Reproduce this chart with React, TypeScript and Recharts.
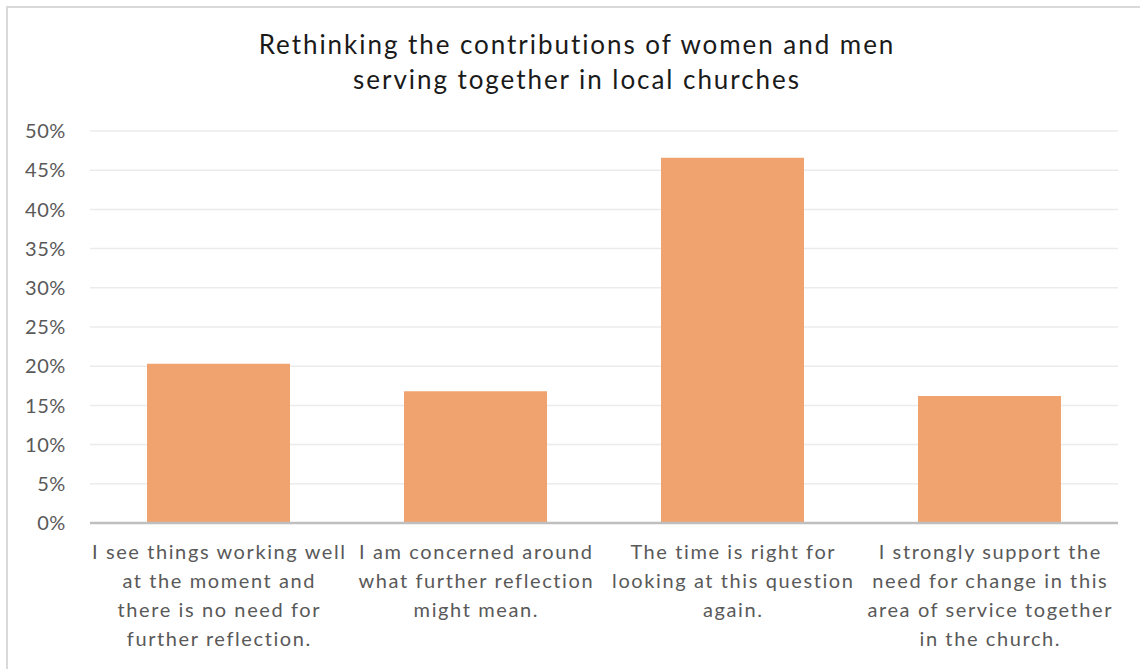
import React from 'react';
import { BarChart, Bar, XAxis, YAxis, CartesianGrid } from 'recharts';

const categories = [
  'I see things working well at the moment and there is no need for further reflection.',
  'I am concerned around what further reflection might mean.',
  'The time is right for looking at this question again.',
  'I strongly support the need for change in this area of service together in the church.',
];

const categoryLines = [
  ['I see things working well', 'at the moment and', 'there is no need for', 'further reflection.'],
  ['I am concerned around', 'what further reflection', 'might mean.'],
  ['The time is right for', 'looking at this question', 'again.'],
  ['I strongly support the', 'need for change in this', 'area of service together', 'in the church.'],
];

const shares = [0.203, 0.168, 0.466, 0.162];

const yTicks = [0, 0.05, 0.1, 0.15, 0.2, 0.25, 0.3, 0.35, 0.4, 0.45, 0.5];

const titleLines = ['Rethinking the contributions of women and men', 'serving together in local churches'];

const data = categories.map((c, i) => ({ category: c, share: shares[i] }));

const FONT = 'Lato, "Open Sans", sans-serif';

const CategoryTick = (props: any) => {
  const { x, y, index } = props;
  const lines = categoryLines[index] || [];
  return (
    <g transform={`translate(${x},${y})`}>
      {lines.map((ln, i) => (
        <text key={i} x={0.8} y={i * 29} dy={28} textAnchor="middle" fill="#595959" fontSize={20} fontFamily={FONT} letterSpacing={1.6}>
          {ln}
        </text>
      ))}
    </g>
  );
};

export default function App() {
  return (
    <div style={{ position: 'absolute', left: 0, top: 0, width: 1140, height: 669, background: '#fff', overflow: 'hidden', fontFamily: FONT }}>
      <div style={{ position: 'absolute', left: 6, top: 6, width: 1160, height: 700, border: '2px solid #d9d9d9', boxSizing: 'border-box' }} />
      <div style={{ position: 'absolute', left: 0, top: 27, width: 1154, textAlign: 'center', fontSize: 26, lineHeight: '35px', color: '#1a1a1a', letterSpacing: 1.95 }}>
        {titleLines.map((t, i) => <div key={i}>{t}</div>)}
      </div>
      <div style={{ position: 'absolute', left: 0, top: 0 }}>
        <BarChart width={1140} height={669} data={data} margin={{ top: 131, right: 22, bottom: 6, left: 10 }}>
          <CartesianGrid vertical={false} stroke="#ebebeb" strokeWidth={1.5} />
          <XAxis
            dataKey="category"
            interval={0}
            height={140}
            tickLine={false}
            axisLine={{ stroke: '#bfbfbf', strokeWidth: 2.5 }}
            tick={<CategoryTick />}
          />
          <YAxis
            domain={[0, 0.5]}
            ticks={yTicks}
            width={80}
            axisLine={false}
            tickLine={false}
            tickSize={6}
            tickMargin={18}
            tickFormatter={(v: number) => `${Math.round(v * 100)}%`}
            tick={{ fill: '#595959', fontSize: 20, fontFamily: FONT, letterSpacing: 0.6 }}
          />
          <Bar dataKey="share" fill="#f0a36e" barSize={143} isAnimationActive={false} />
        </BarChart>
      </div>
    </div>
  );
}
